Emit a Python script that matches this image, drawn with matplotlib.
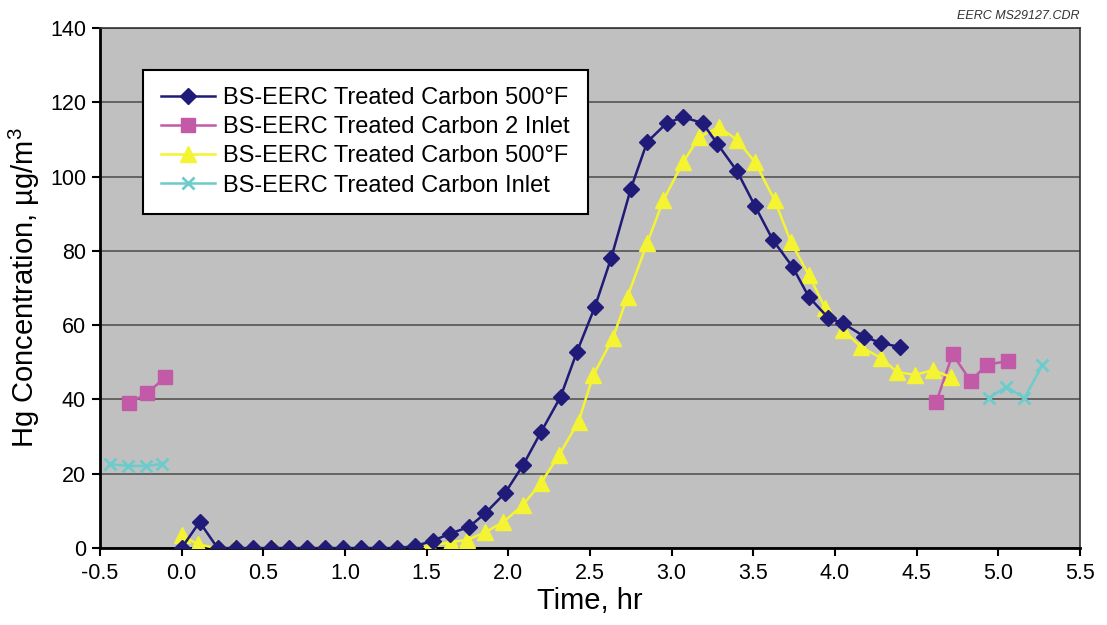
import matplotlib
matplotlib.use('Agg')
import numpy as np
import matplotlib.pyplot as plt

plt.rcParams['font.family'] = ['Liberation Sans', 'DejaVu Sans']
plt.rcParams['mathtext.default'] = 'regular'

# Serie 1: diamantes azules
blue_x = [0.00, 0.11, 0.22, 0.33, 0.44, 0.55, 0.66, 0.77, 0.88, 0.99, 1.10, 1.21, 1.32, 1.43,
          1.54, 1.64, 1.76, 1.86, 1.98, 2.09, 2.20, 2.32, 2.42, 2.53, 2.63, 2.75, 2.85, 2.97,
          3.07, 3.19, 3.28, 3.40, 3.51, 3.62, 3.74, 3.84, 3.96, 4.05, 4.18, 4.28, 4.40]
blue_y = [0, 7, 0, 0, 0, 0, 0, 0, 0, 0, 0, 0, 0, 0.5,
          2, 3.8, 5.7, 9.4, 14.8, 22.3, 31.2, 40.7, 52.8, 64.9, 78.1, 96.7, 109.3, 114.4,
          116, 114.4, 108.8, 101.5, 92.1, 82.9, 75.7, 67.6, 61.9, 60.5, 56.9, 55.2, 54.1]

# Serie 2: cuadrados rosas (dos tramos separados)
pink_x = [-0.32, -0.21, -0.10, np.nan, 4.62, 4.72, 4.83, 4.93, 5.06]
pink_y = [39, 41.7, 46, np.nan, 39.3, 52.2, 45, 49.3, 50.4]

# Serie 3: triángulos amarillos
yellow_x = [0.00, 0.10, 0.21, 0.32, 0.44, 0.56, 0.66, 0.77, 0.87, 0.99, 1.10, 1.21, 1.31, 1.42,
            1.52, 1.65, 1.75, 1.86, 1.97, 2.09, 2.20, 2.31, 2.43, 2.52, 2.64, 2.73, 2.85, 2.95,
            3.07, 3.17, 3.29, 3.40, 3.51, 3.63, 3.73, 3.84, 3.94, 4.05, 4.16, 4.28, 4.38, 4.49,
            4.60, 4.71]
yellow_y = [3.5, 1, 0, 0, 0, 0, 0, 0, 0, 0, 0, 0, 0, 0,
            0.5, 1.6, 2.2, 4.3, 7.0, 11.6, 17.5, 25, 34, 46.5, 56.5, 67.7, 82.1, 93.7,
            103.9, 110.7, 113.3, 109.9, 103.9, 93.7, 82.4, 73.5, 64.6, 58.7, 54.1, 51.2, 47.4, 46.6,
            47.9, 46]

# Serie 4: cruces cian (dos tramos separados)
cyan_x = [-0.44, -0.33, -0.22, -0.12, np.nan, 4.94, 5.05, 5.16, 5.27]
cyan_y = [22.6, 22.1, 22.1, 22.6, np.nan, 40.4, 43.4, 40.4, 49.3]

labels = ['BS-EERC Treated Carbon 500°F', 'BS-EERC Treated Carbon 2 Inlet',
          'BS-EERC Treated Carbon 500°F', 'BS-EERC Treated Carbon Inlet']

fig = plt.figure(figsize=(11.07, 6.25), dpi=100)
ax = fig.add_axes([0.0903, 0.1232, 0.8853, 0.832])
ax.set_facecolor('#c0c0c0')

ax.plot(blue_x, blue_y, color='#201a78', marker='D', markersize=8.5, lw=1.8, label=labels[0], zorder=4)
ax.plot(pink_x, pink_y, color='#c35aa8', marker='s', markersize=10.5, lw=1.8, label=labels[1], zorder=3)
ax.plot(yellow_x, yellow_y, color='#f4f432', marker='^', markersize=11, lw=1.8, label=labels[2], zorder=3)
ax.plot(cyan_x, cyan_y, color='#6ccccc', marker='x', markersize=9, mew=2, lw=1.8, label=labels[3], zorder=3)

ax.set_xlim(-0.5, 5.5)
ax.set_ylim(0, 140)
ax.set_xticks(np.arange(-0.5, 5.51, 0.5))
ax.set_xticklabels(['%.1f' % v for v in np.arange(-0.5, 5.51, 0.5)])
ax.set_yticks(np.arange(0, 141, 20))
ax.yaxis.grid(True, color='#555555', lw=1.2)
ax.set_axisbelow(True)

for s in ['left', 'bottom']:
    ax.spines[s].set_linewidth(2)
    ax.spines[s].set_color('black')
for s in ['top', 'right']:
    ax.spines[s].set_linewidth(1.2)
    ax.spines[s].set_color('#333333')

ax.tick_params(axis='both', labelsize=15.5, length=6, width=1.5, direction='out', colors='black')
ax.tick_params(axis='x', pad=5)
ax.tick_params(axis='y', pad=4)

ax.set_xlabel('Time, hr', fontsize=21, labelpad=2)
ax.set_ylabel('Hg Concentration, µg/m$^3$', fontsize=21, labelpad=6)

leg = ax.legend(loc='upper left', bbox_to_anchor=(0.044, 0.92), fontsize=17, frameon=True,
                fancybox=False, framealpha=1, edgecolor='black', handlelength=2.3,
                handletextpad=0.35, labelspacing=0.3, borderpad=0.75, borderaxespad=0)
leg.get_frame().set_linewidth(1.5)

fig.text(0.975, 0.965, 'EERC MS29127.CDR', ha='right', va='bottom', fontsize=9, style='italic', color='#333333')

fig.savefig('out.png', dpi=100)
